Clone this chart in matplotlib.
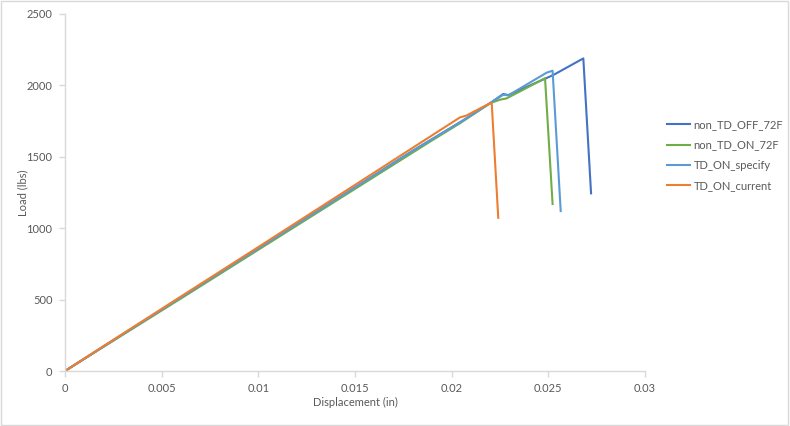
import matplotlib
matplotlib.use("Agg")
import matplotlib.pyplot as plt
from matplotlib.patches import Rectangle

# Data (displacement in inches, load in lbs)
off72_x = [0.0, 0.0020, 0.0060, 0.0100, 0.0140, 0.0180, 0.02069, 0.02198, 0.02267, 0.02293, 0.02526, 0.02681, 0.02721]
off72_y = [0.0, 172, 515, 858, 1200, 1543, 1763, 1875, 1940, 1932, 2073, 2189, 1244]

on72_x = [0.0, 0.0020, 0.0060, 0.0100, 0.0140, 0.01888, 0.02043, 0.02198, 0.02250, 0.02284, 0.02483, 0.02522]
on72_y = [0.0, 170, 508, 849, 1190, 1606, 1735, 1875, 1900, 1909, 2050, 1169]

specify_x = [0.0, 0.0020, 0.0060, 0.0100, 0.0140, 0.0180, 0.02069, 0.02198, 0.02267, 0.02293, 0.02491, 0.02522, 0.02564]
specify_y = [0.0, 172, 515, 858, 1200, 1543, 1763, 1875, 1935, 1930, 2089, 2103, 1120]

current_x = [0.0, 0.0020, 0.0060, 0.0100, 0.0140, 0.01888, 0.02043, 0.02075, 0.02164, 0.02207, 0.02241]
current_y = [0.0, 175, 522, 868, 1216, 1641, 1776, 1788, 1851, 1879, 1073]

series_names = ["non_TD_OFF_72F", "non_TD_ON_72F", "TD_ON_specify", "TD_ON_current"]
colors = ["#4472C4", "#70AD47", "#5B9BD5", "#ED7D31"]

x_ticks = [0, 0.005, 0.01, 0.015, 0.02, 0.025, 0.03]
x_tick_labels = ["0", "0.005", "0.01", "0.015", "0.02", "0.025", "0.03"]
y_ticks = [0, 500, 1000, 1500, 2000, 2500]

plt.rcParams['font.family'] = ['Lato', 'DejaVu Sans']

fig = plt.figure(figsize=(7.9, 4.26), dpi=100)
fig.patches.append(Rectangle((0.001, 0.002), 0.997, 0.995, transform=fig.transFigure,
                             fill=False, edgecolor="#d9d9d9", linewidth=1.0))
ax = fig.add_axes([65/790, 55/426, 580/790, 357/426])

data = [(off72_x, off72_y), (on72_x, on72_y), (specify_x, specify_y), (current_x, current_y)]
for (xs, ys), name, c in zip(data, series_names, colors):
    ax.plot(xs, ys, color=c, linewidth=1.5, label=name, solid_joinstyle="round")

ax.set_xlim(0, 0.03)
ax.set_ylim(0, 2500)
ax.set_xticks(x_ticks)
ax.set_xticklabels(x_tick_labels)
ax.set_yticks(y_ticks)
for s in ["top", "right"]:
    ax.spines[s].set_visible(False)
for s in ["left", "bottom"]:
    ax.spines[s].set_color("#d9d9d9")
    ax.spines[s].set_linewidth(1.0)
ax.tick_params(axis="both", colors="#d9d9d9", labelcolor="#595959", labelsize=8,
               length=4, width=1.0, direction="out", pad=5)
ax.set_xlabel("Displacement (in)", fontsize=8, color="#595959", labelpad=2)
ax.set_ylabel("Load (lbs)", fontsize=8, color="#595959", labelpad=-1)

leg = fig.legend(loc="upper left", bbox_to_anchor=(657/790, 1 - 109/426), frameon=False,
                 fontsize=8, handlelength=2.1, handletextpad=0.3, labelspacing=0.85)
for t in leg.get_texts():
    t.set_color("#595959")

fig.savefig("out.png", dpi=100)
